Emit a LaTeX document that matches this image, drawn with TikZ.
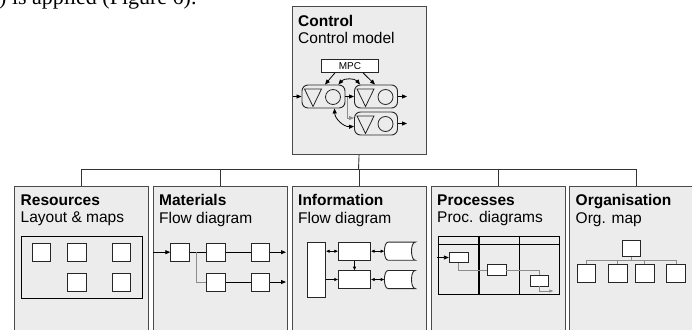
\documentclass[tikz,border=0pt]{standalone}
\usepackage{fontspec}
\setmainfont{Liberation Sans}
\newfontfamily\serifpart{Liberation Serif}
\usetikzlibrary{positioning,arrows.meta,calc}
\definecolor{panelfill}{HTML}{ECECEC}
\definecolor{panelline}{HTML}{4A4A4A}
\definecolor{linkgray}{HTML}{8C8C8C}
\tikzset{
  >={Triangle[length=5pt,width=4pt]},
  panel/.style={draw=panelline,fill=panelfill,line width=1.1pt,minimum width=134pt,
    minimum height=150pt,anchor=north west,inner sep=0pt},
  heading/.style={align=left,inner sep=0pt,font=\fontsize{15.5}{17.5}\selectfont},
  frame/.style={draw=black,line width=0.9pt,anchor=north west,inner sep=0pt},
  sq/.style={draw=black!85,fill=white,line width=0.9pt,minimum width=18.5pt,
    minimum height=18pt,inner sep=0pt},
  blk/.style={draw=black!85,fill=white,line width=0.9pt,inner sep=0pt},
  unit/.style={draw=black!85,line width=0.9pt,rounded corners=6pt,
    minimum width=43pt,minimum height=23pt,inner sep=0pt},
  valve/.style={draw=black!85,line width=0.8pt},
  link/.style={line width=0.8pt},
  graylink/.style={draw=linkgray,line width=0.8pt},
  buslink/.style={draw=black!80,line width=0.9pt},
  tiny/.style={line width=0.7pt,>={Triangle[length=3.5pt,width=3pt]}},
}
\begin{document}
\begin{tikzpicture}[x=1pt,y=-1pt]
  \useasboundingbox (0,0) rectangle (692,329);
  % text of the page above the figure
  \node[font=\serifpart\fontsize{22}{24}\selectfont,anchor=base west,inner sep=0pt]
    (pagetext) at (-1,5) {) is applied (Figure 6).};

  % control panel
  \node[panel,minimum height=148pt] (ctrl) at (291.5,6) {};
  \node[heading,below right=9pt and 6.5pt of ctrl.north west] (ctrltxt)
    {\textbf{Control}\\Control model};
  \node[blk,minimum width=56.6pt,minimum height=13.3pt,
    font=\fontsize{10}{12}\selectfont] (mpc) at (350,65.7) {MPC};
  \foreach \u/\x/\y in {u1/323.5/96.5,u2/376/96.5,u3/376/123.5}{
    \node[unit] (\u) at (\x,\y) {};
    \draw[valve] (\x-19,\y-7.5) -- (\x-2,\y-7.5) -- (\x-10.5,\y+10) -- cycle;
    \draw[valve] (\x+9.5,\y+0.5) circle[radius=7.5pt];
  }
  \coordinate (cin) at (293,96.5);
  \coordinate (cout2) at (407,96.5);
  \coordinate (cout3) at (407,123.5);
  \draw[link,->] (cin) -- (u1.west);
  \draw[link,->] (u1.east) -- (u2.west);
  \draw[link,->] (u2.east) -- (cout2);
  \draw[link,->] (u3.east) -- (cout3);
  \draw[graylink,->] ([xshift=2pt]u1.east) |- ([yshift=5.5pt]u3.west);
  \draw[link,->] ([xshift=-15pt]mpc.south) -- ([xshift=1.5pt]u1.north);
  \draw[link,->] ([xshift=13pt]mpc.south) -- ([xshift=-1pt]u2.north);
  \draw[link,<->] ([xshift=-7pt]u1.north east) to[bend left=50] ([xshift=6pt]u2.north west);
  \draw[link,<->] ([xshift=11pt]u1.south) to[bend right=45] ([yshift=-3pt]u3.west);

  % the five views
  \foreach \n/\x in {res/14,mat/152.5,info/291.5,proc/430.5,org/569}
    \node[panel] (\n) at (\x,185.5) {};
  \node[heading,below right=9pt and 6.5pt of res.north west] (restxt)
    {\textbf{Resources}\\Layout \& maps};
  \node[heading,below right=9pt and 6.5pt of mat.north west] (mattxt)
    {\textbf{Materials}\\Flow diagram};
  \node[heading,below right=9pt and 6.5pt of info.north west] (infotxt)
    {\textbf{Information}\\Flow diagram};
  \node[heading,below right=9pt and 6.5pt of proc.north west] (proctxt)
    {\textbf{Processes}\\Proc. diagrams};
  \node[heading,below right=9pt and 6.5pt of org.north west] (orgtxt)
    {\textbf{Organisation}\\Org. map};

  % tree from control to the views
  \coordinate (bus) at (358.5,169.3);
  \draw[buslink] (ctrl.south) -- (bus);
  \draw[buslink] (res.north) |- (bus) -| (org.north);
  \draw[buslink] (mat.north) -- (mat.north |- bus);
  \draw[buslink] (info.north) -- (info.north |- bus);
  \draw[buslink] (proc.north) -- (proc.north |- bus);

  % resources: layout
  \node[frame,minimum width=121pt,minimum height=62.6pt] (resmap) at (20.7,235.7) {};
  \foreach \s/\x/\y in {r1/41.2/252.5,r2/77/252.5,r3/121.5/252.5,r4/77/282,r5/121.5/282}
    \node[sq] (\s) at (\x,\y) {};

  % materials: flow
  \foreach \s/\x/\y in {m1/180/252.2,m2/215.8/252.2,m3/260.5/252.2,m4/215.8/282,m5/260.5/282}
    \node[sq] (\s) at (\x,\y) {};
  \coordinate (min) at (153,252.2);
  \coordinate (mout1) at (286,252.2);
  \coordinate (mout2) at (286,282);
  \draw[link,->] (min) -- (m1);
  \draw[link] (m1) -- (m2);
  \draw[link] (m2) -- (m3);
  \draw[link] (m4) -- (m5);
  \draw[graylink] ([xshift=7pt]m1.east) |- (m4.west);
  \draw[link,->] (m3) -- (mout1);
  \draw[link,->] (m5) -- (mout2);

  % information: flow
  \node[blk,minimum width=18.4pt,minimum height=55pt] (i0) at (316.5,269.8) {};
  \node[blk,minimum width=32.4pt,minimum height=17.7pt] (i1) at (354.5,251.2) {};
  \node[blk,minimum width=32.4pt,minimum height=17.7pt] (i2) at (354.5,279.5) {};
  \foreach \s/\y in {s1/251.2,s2/279.5}{
    \node[minimum width=30.7pt,minimum height=17.7pt,inner sep=0pt] (\s) at (399.7,\y) {};
    \draw[blk] ([xshift=4pt]\s.north west)
      .. controls ([xshift=-1pt]\s.north west) and ([xshift=-1pt]\s.south west) .. ([xshift=4pt]\s.south west)
      -- (\s.south east)
      .. controls ([xshift=-5pt]\s.south east) and ([xshift=-5pt]\s.north east) .. (\s.north east)
      -- cycle;
  }
  \draw[tiny,<->] (i1.west -| i0.east) -- (i1.west);
  \draw[tiny,->] (i2.west -| i0.east) -- (i2.west);
  \draw[tiny,->] (i1) -- (i2);
  \draw[tiny,<->] (i1.east) -- (s1.west);
  \draw[tiny,<->] (i2.east) -- (s2.west);

  % processes: swim lanes
  \node[frame,line width=1.1pt,minimum width=121pt,minimum height=58.3pt] (lanes) at (438.3,235.7) {};
  \draw[line width=1.1pt] ([yshift=-8.6pt]lanes.north west) -- ([yshift=-8.6pt]lanes.north east);
  \draw[line width=1.1pt] ($(lanes.north west)!1/3!(lanes.north east)$) -- ($(lanes.south west)!1/3!(lanes.south east)$);
  \draw[line width=1.1pt] ($(lanes.north west)!2/3!(lanes.north east)$) -- ($(lanes.south west)!2/3!(lanes.south east)$);
  \node[blk,minimum width=19pt,minimum height=10.4pt] (p1) at (458.8,257.5) {};
  \node[blk,minimum width=18.3pt,minimum height=11.4pt] (p2) at (496.8,270) {};
  \node[blk,minimum width=18.4pt,minimum height=11pt] (p3) at (539.5,280.5) {};
  \coordinate (pin) at (436.7,257.5);
  \coordinate (pout) at (553.3,291);
  \draw[link,->] (pin) -- (p1);
  \draw[graylink] (p1.south) |- (p2.west);
  \draw[graylink] (p2.east) -| (p3.north);
  \draw[graylink,->,>={Triangle[length=4pt,width=3pt]}] (p3.south) |- (pout);

  % organisation: tree
  \node[sq,minimum height=16.7pt] (o0) at (631.5,248.3) {};
  \foreach \s/\x in {o1/586.5,o2/617.7,o3/644.7,o4/676}
    \node[sq] (\s) at (\x,273.3) {};
  \coordinate (obus) at (631.5,260.7);
  \draw[graylink] (o0) -- (obus);
  \draw[graylink] (o1.north) |- (obus) -| (o4.north);
  \draw[graylink] (o2.north) -- (o2.north |- obus);
  \draw[graylink] (o3.north) -- (o3.north |- obus);
\end{tikzpicture}
\end{document}
